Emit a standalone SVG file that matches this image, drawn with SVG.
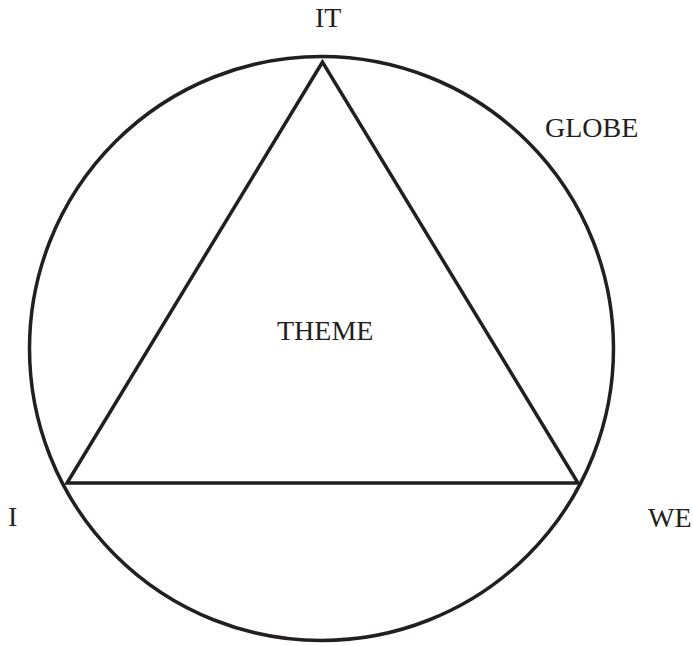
<svg xmlns="http://www.w3.org/2000/svg" width="693" height="646" viewBox="0 0 693 646">
<style>
.s{fill:none;stroke:#231f20;stroke-width:3.5;stroke-linejoin:miter}
.t{font-family:"Liberation Serif","Times New Roman",serif;font-size:28px;fill:#231f20}
</style>
<rect width="693" height="646" fill="#fff"/>
<g id="globe"><circle class="s" cx="321.5" cy="348.5" r="292"/><text class="t" x="545" y="137">GLOBE</text></g>
<g id="theme"><polygon class="s" points="322.5,62 67,483 578,483"/><text class="t" x="277" y="340">THEME</text></g>
<g id="it"><text class="t" x="315" y="27">IT</text></g>
<g id="i"><text class="t" x="8" y="526">I</text></g>
<g id="we"><text class="t" x="648" y="527">WE</text></g>
<g id="connectors"></g>
</svg>
